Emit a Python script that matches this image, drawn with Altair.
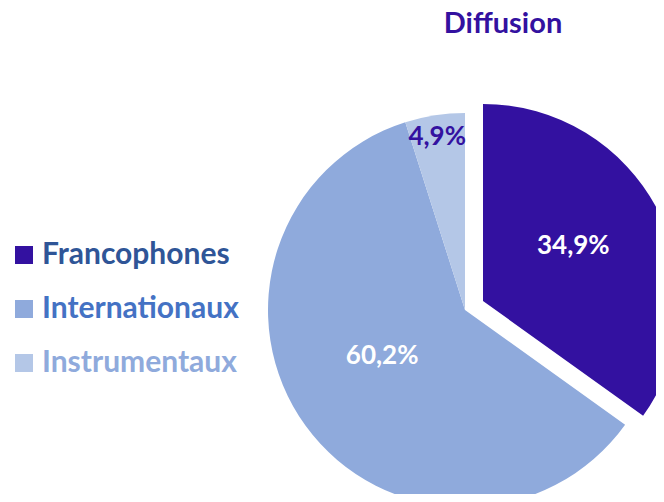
import altair as alt
import pandas as pd

# ---- data ----
categories = ["Francophones", "Internationaux", "Instrumentaux"]
shares = [34.9, 60.2, 4.9]
share_labels = ["34,9%", "60,2%", "4,9%"]
title_text = ["Diffusion"]

slice_colors = ["#3311A0", "#8FAADC", "#B4C7E7"]
legend_text_colors = ["#2F5597", "#4472C4", "#8FAADC"]

df = pd.DataFrame({
    "category": categories,
    "share": shares,
    "label": share_labels,
    "order": list(range(len(categories))),
})

FONT = "Lato"
theta_scale = alt.Scale(domain=[0, 100])
color_scale = alt.Scale(domain=categories, range=slice_colors)

base = (
    alt.Chart(df)
    .transform_window(cum="sum(share)", sort=[alt.SortField("order")], frame=[None, 0])
    .transform_calculate(start="datum.cum - datum.share", mid="datum.cum - datum.share / 2")
)

R = 197
main_center = (457, 302)
expl_center = (475, 293)

main_arcs = base.transform_filter("datum.category != 'Francophones'").mark_arc(radius=R).encode(
    theta=alt.Theta("start:Q", scale=theta_scale),
    theta2="cum:Q",
    color=alt.Color("category:N", scale=color_scale, legend=None),
    x=alt.value(main_center[0]),
    y=alt.value(main_center[1]),
)

expl_arc = base.transform_filter("datum.category == 'Francophones'").mark_arc(radius=R).encode(
    theta=alt.Theta("start:Q", scale=theta_scale),
    theta2="cum:Q",
    color=alt.Color("category:N", scale=color_scale, legend=None),
    x=alt.value(expl_center[0]),
    y=alt.value(expl_center[1]),
)

def pct_label(cat, center, radius, color, dx, dy):
    return base.transform_filter(f"datum.category == '{cat}'").mark_text(
        radius=radius, font=FONT, fontWeight="bold", fontSize=26,
        align="center", baseline="middle", dx=dx, dy=dy, color=color,
    ).encode(
        theta=alt.Theta("mid:Q", scale=theta_scale),
        text="label:N",
        x=alt.value(center[0]),
        y=alt.value(center[1]),
    )

lab_fr = pct_label("Francophones", expl_center, 106, "white", -4, -7)
lab_int = pct_label("Internationaux", main_center, 95, "white", -6, -10)
lab_ins = pct_label("Instrumentaux", main_center, 175, "#3311A0", -1, 0)

legend_y = alt.Scale(type="point", domain=categories, range=[247, 355], padding=0)

legend_sq = alt.Chart(df).mark_square(size=324, opacity=1).encode(
    x=alt.value(16),
    y=alt.Y("category:N", scale=legend_y, axis=None),
    color=alt.Color("category:N", scale=color_scale, legend=None),
)

legend_txt = alt.Chart(df).mark_text(
    align="left", baseline="middle", font=FONT, fontWeight="bold", fontSize=30,
).encode(
    x=alt.value(34),
    y=alt.Y("category:N", scale=legend_y, axis=None),
    text="category:N",
    color=alt.Color("category:N", scale=alt.Scale(domain=categories, range=legend_text_colors), legend=None),
)

title_mark = alt.Chart(pd.DataFrame({"t": title_text})).mark_text(
    align="center", baseline="alphabetic", font=FONT, fontSize=29, fontWeight="bold", color="#3311A0",
).encode(text="t:N", x=alt.value(495), y=alt.value(25))

chart = (
    alt.layer(main_arcs, expl_arc, lab_fr, lab_int, lab_ins, legend_sq, legend_txt, title_mark)
    .resolve_scale(color="independent")
    .properties(
        width=648,
        height=486,
        padding=0,
        autosize=alt.AutoSizeParams(type="none"),
    )
    .configure_view(stroke=None)
)

chart.save("out.html", embed_options={"renderer": "svg", "actions": False})
